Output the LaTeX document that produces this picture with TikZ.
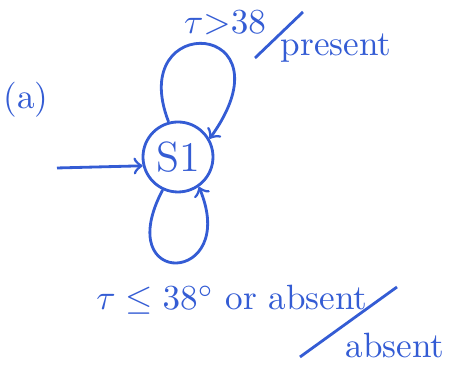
\documentclass[tikz,border=0pt]{standalone}
\usepackage{amsmath,amssymb}
\usepackage{tikz}
\usetikzlibrary{arrows,positioning,calc}
\definecolor{inkblue}{RGB}{52,92,212}

\begin{document}
\begin{tikzpicture}[
  state/.style={circle, draw=inkblue, thick, minimum size=0.7cm, inner sep=0pt,
    font=\large, text=inkblue},
  arrow/.style={->, >=to, thick, draw=inkblue},
  lbl/.style={font=\normalsize, text=inkblue, inner sep=1pt},
  every node/.style={font=\normalsize}
]
  \useasboundingbox (0,0) rectangle (4.49,3.70);

  % Tag
  \node[lbl] (tag) at (0.26,2.70) {(a)};

  % State
  \node[state] (s1) at (1.78,2.13) {S1};

  % Entry
  \coordinate (entry) at (0.57,2.02);
  \draw[arrow] (entry) -- (s1.194);

  % Upper loop
  \draw[arrow] (s1.105) .. controls (1.25,3.60) and (2.95,3.50) .. (s1.30);
  \node[lbl] (hot) at (2.25,3.47) {$\tau{>}38$};
  \coordinate (hotA) at (2.55,3.12);
  \coordinate (hotB) at (3.03,3.58);
  \draw[inkblue, thick] (hotA) -- (hotB);
  \node[lbl] (present) at (3.36,3.22) {present};

  % Lower loop
  \draw[arrow] (s1.245) .. controls (1.10,0.80) and (2.40,0.85) .. (s1.305);
  \node[lbl] (cold) at (2.32,0.70) {$\tau\leq 38^\circ$ or absent};
  \coordinate (coldA) at (3.00,0.13);
  \coordinate (coldB) at (3.97,0.83);
  \draw[inkblue, thick] (coldA) -- (coldB);
  \node[lbl] (absent) at (3.95,0.24) {absent};
\end{tikzpicture}
\end{document}
